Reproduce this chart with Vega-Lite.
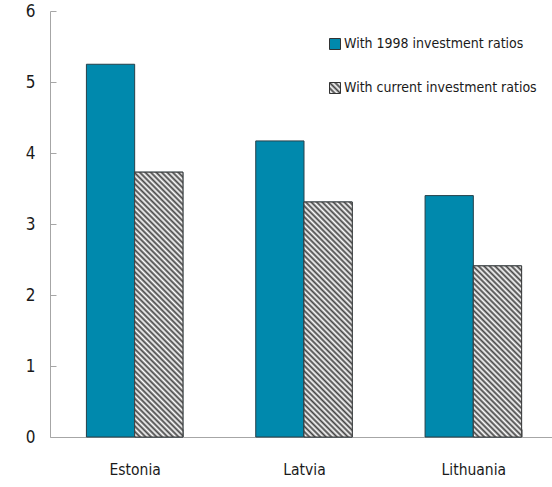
{
  "$schema": "https://vega.github.io/schema/vega-lite/v6.json",
  "width": 502,
  "height": 426,
  "autosize": {"type": "none"},
  "padding": {"left": 50, "top": 11, "right": 0, "bottom": 50},
  "background": "white",
  "config": {
    "font": "DejaVu Sans Condensed, Roboto",
    "view": {"stroke": null},
    "axis": {"grid": false, "domainColor": "#a6a6a6", "tickColor": "#a6a6a6", "labelFontSize": 15, "labelColor": "#1a1a1a", "labelFont": "DejaVu Sans Condensed, Roboto"},
    "legend": {"labelFont": "DejaVu Sans Condensed, Roboto"}
  },
  "data": {"values": [
    {"country": "Estonia", "series": "With 1998 investment ratios", "value": 5.25},
    {"country": "Estonia", "series": "With current investment ratios", "value": 3.73},
    {"country": "Latvia", "series": "With 1998 investment ratios", "value": 4.17},
    {"country": "Latvia", "series": "With current investment ratios", "value": 3.31},
    {"country": "Lithuania", "series": "With 1998 investment ratios", "value": 3.40},
    {"country": "Lithuania", "series": "With current investment ratios", "value": 2.41}
  ]},
  "encoding": {
    "x": {"field": "country", "type": "nominal", "sort": ["Estonia", "Latvia", "Lithuania"],
      "scale": {"range": [0, 508], "paddingInner": 0.43, "paddingOuter": 0.215},
      "axis": {"title": null, "labelAngle": 0, "tickBand": "extent", "tickSize": -8, "labelPadding": 33, "labelFontSize": 15.5}},
    "xOffset": {"field": "series", "type": "nominal", "sort": ["With 1998 investment ratios", "With current investment ratios"],
      "scale": {"paddingInner": 0, "paddingOuter": 0}},
    "y": {"field": "value", "type": "quantitative", "scale": {"domain": [0, 6]},
      "axis": {"title": null, "values": [0, 1, 2, 3, 4, 5, 6], "tickSize": -6, "labelPadding": 21, "labelFontSize": 17}}
  },
  "layer": [
    {
      "mark": {"type": "bar", "stroke": "#26404a", "strokeWidth": 1},
      "encoding": {
        "fill": {"field": "series", "type": "nominal",
          "scale": {"domain": ["With 1998 investment ratios", "With current investment ratios"],
            "range": ["#0089ad", {"expr": "{gradient: 'linear', x1: 0, y1: 1, x2: 1, y2: 0, stops: [{offset: 0, color: '#444'}, {offset: 0.125, color: '#fff'}, {offset: 0.25, color: '#444'}, {offset: 0.375, color: '#fff'}, {offset: 0.5, color: '#444'}, {offset: 0.625, color: '#fff'}, {offset: 0.75, color: '#444'}, {offset: 0.875, color: '#fff'}, {offset: 1, color: '#444'}]}"}]},
          "legend": {"orient": "none", "legendX": 278, "legendY": 26, "title": null, "symbolType": "square", "symbolSize": 121,
            "symbolStrokeColor": "#333333", "symbolStrokeWidth": 1, "symbolOpacity": 1, "labelFontSize": 14, "labelColor": "#1a1a1a",
            "labelLimit": 400, "rowPadding": 28, "labelOffset": 2, "padding": 0}
        }
      }
    },
    {
      "transform": [{"filter": "datum.series === 'With current investment ratios' && datum.country === 'Estonia'"}],
      "mark": {"type": "bar", "stroke": "#404040", "strokeWidth": 1, "fill": {"gradient": "linear", "x1": 0, "y1": 1, "x2": 0.2203, "y2": -0.207, "stops": [
        {"offset":0,"color":"#444"},{"offset":0.0083,"color":"#fff"},{"offset":0.0167,"color":"#444"},{"offset":0.025,"color":"#fff"},{"offset":0.0333,"color":"#444"},{"offset":0.0417,"color":"#fff"},{"offset":0.05,"color":"#444"},{"offset":0.0583,"color":"#fff"},{"offset":0.0667,"color":"#444"},{"offset":0.075,"color":"#fff"},
        {"offset":0.0833,"color":"#444"},{"offset":0.0917,"color":"#fff"},{"offset":0.1,"color":"#444"},{"offset":0.1083,"color":"#fff"},{"offset":0.1167,"color":"#444"},{"offset":0.125,"color":"#fff"},{"offset":0.1333,"color":"#444"},{"offset":0.1417,"color":"#fff"},{"offset":0.15,"color":"#444"},{"offset":0.1583,"color":"#fff"},
        {"offset":0.1667,"color":"#444"},{"offset":0.175,"color":"#fff"},{"offset":0.1833,"color":"#444"},{"offset":0.1917,"color":"#fff"},{"offset":0.2,"color":"#444"},{"offset":0.2083,"color":"#fff"},{"offset":0.2167,"color":"#444"},{"offset":0.225,"color":"#fff"},{"offset":0.2333,"color":"#444"},{"offset":0.2417,"color":"#fff"},
        {"offset":0.25,"color":"#444"},{"offset":0.2583,"color":"#fff"},{"offset":0.2667,"color":"#444"},{"offset":0.275,"color":"#fff"},{"offset":0.2833,"color":"#444"},{"offset":0.2917,"color":"#fff"},{"offset":0.3,"color":"#444"},{"offset":0.3083,"color":"#fff"},{"offset":0.3167,"color":"#444"},{"offset":0.325,"color":"#fff"},
        {"offset":0.3333,"color":"#444"},{"offset":0.3417,"color":"#fff"},{"offset":0.35,"color":"#444"},{"offset":0.3583,"color":"#fff"},{"offset":0.3667,"color":"#444"},{"offset":0.375,"color":"#fff"},{"offset":0.3833,"color":"#444"},{"offset":0.3917,"color":"#fff"},{"offset":0.4,"color":"#444"},{"offset":0.4083,"color":"#fff"},
        {"offset":0.4167,"color":"#444"},{"offset":0.425,"color":"#fff"},{"offset":0.4333,"color":"#444"},{"offset":0.4417,"color":"#fff"},{"offset":0.45,"color":"#444"},{"offset":0.4583,"color":"#fff"},{"offset":0.4667,"color":"#444"},{"offset":0.475,"color":"#fff"},{"offset":0.4833,"color":"#444"},{"offset":0.4917,"color":"#fff"},
        {"offset":0.5,"color":"#444"},{"offset":0.5083,"color":"#fff"},{"offset":0.5167,"color":"#444"},{"offset":0.525,"color":"#fff"},{"offset":0.5333,"color":"#444"},{"offset":0.5417,"color":"#fff"},{"offset":0.55,"color":"#444"},{"offset":0.5583,"color":"#fff"},{"offset":0.5667,"color":"#444"},{"offset":0.575,"color":"#fff"},
        {"offset":0.5833,"color":"#444"},{"offset":0.5917,"color":"#fff"},{"offset":0.6,"color":"#444"},{"offset":0.6083,"color":"#fff"},{"offset":0.6167,"color":"#444"},{"offset":0.625,"color":"#fff"},{"offset":0.6333,"color":"#444"},{"offset":0.6417,"color":"#fff"},{"offset":0.65,"color":"#444"},{"offset":0.6583,"color":"#fff"},
        {"offset":0.6667,"color":"#444"},{"offset":0.675,"color":"#fff"},{"offset":0.6833,"color":"#444"},{"offset":0.6917,"color":"#fff"},{"offset":0.7,"color":"#444"},{"offset":0.7083,"color":"#fff"},{"offset":0.7167,"color":"#444"},{"offset":0.725,"color":"#fff"},{"offset":0.7333,"color":"#444"},{"offset":0.7417,"color":"#fff"},
        {"offset":0.75,"color":"#444"},{"offset":0.7583,"color":"#fff"},{"offset":0.7667,"color":"#444"},{"offset":0.775,"color":"#fff"},{"offset":0.7833,"color":"#444"},{"offset":0.7917,"color":"#fff"},{"offset":0.8,"color":"#444"},{"offset":0.8083,"color":"#fff"},{"offset":0.8167,"color":"#444"},{"offset":0.825,"color":"#fff"},
        {"offset":0.8333,"color":"#444"},{"offset":0.8417,"color":"#fff"},{"offset":0.85,"color":"#444"},{"offset":0.8583,"color":"#fff"},{"offset":0.8667,"color":"#444"},{"offset":0.875,"color":"#fff"},{"offset":0.8833,"color":"#444"},{"offset":0.8917,"color":"#fff"},{"offset":0.9,"color":"#444"},{"offset":0.9083,"color":"#fff"},
        {"offset":0.9167,"color":"#444"},{"offset":0.925,"color":"#fff"},{"offset":0.9333,"color":"#444"},{"offset":0.9417,"color":"#fff"},{"offset":0.95,"color":"#444"},{"offset":0.9583,"color":"#fff"},{"offset":0.9667,"color":"#444"}
      ]}}
    },
    {
      "transform": [{"filter": "datum.series === 'With current investment ratios' && datum.country === 'Latvia'"}],
      "mark": {"type": "bar", "stroke": "#404040", "strokeWidth": 1, "fill": {"gradient": "linear", "x1": 0, "y1": 1, "x2": 0.2774, "y2": -0.3484, "stops": [
        {"offset":0,"color":"#444"},{"offset":0.0083,"color":"#fff"},{"offset":0.0167,"color":"#444"},{"offset":0.025,"color":"#fff"},{"offset":0.0333,"color":"#444"},{"offset":0.0417,"color":"#fff"},{"offset":0.05,"color":"#444"},{"offset":0.0583,"color":"#fff"},{"offset":0.0667,"color":"#444"},{"offset":0.075,"color":"#fff"},
        {"offset":0.0833,"color":"#444"},{"offset":0.0917,"color":"#fff"},{"offset":0.1,"color":"#444"},{"offset":0.1083,"color":"#fff"},{"offset":0.1167,"color":"#444"},{"offset":0.125,"color":"#fff"},{"offset":0.1333,"color":"#444"},{"offset":0.1417,"color":"#fff"},{"offset":0.15,"color":"#444"},{"offset":0.1583,"color":"#fff"},
        {"offset":0.1667,"color":"#444"},{"offset":0.175,"color":"#fff"},{"offset":0.1833,"color":"#444"},{"offset":0.1917,"color":"#fff"},{"offset":0.2,"color":"#444"},{"offset":0.2083,"color":"#fff"},{"offset":0.2167,"color":"#444"},{"offset":0.225,"color":"#fff"},{"offset":0.2333,"color":"#444"},{"offset":0.2417,"color":"#fff"},
        {"offset":0.25,"color":"#444"},{"offset":0.2583,"color":"#fff"},{"offset":0.2667,"color":"#444"},{"offset":0.275,"color":"#fff"},{"offset":0.2833,"color":"#444"},{"offset":0.2917,"color":"#fff"},{"offset":0.3,"color":"#444"},{"offset":0.3083,"color":"#fff"},{"offset":0.3167,"color":"#444"},{"offset":0.325,"color":"#fff"},
        {"offset":0.3333,"color":"#444"},{"offset":0.3417,"color":"#fff"},{"offset":0.35,"color":"#444"},{"offset":0.3583,"color":"#fff"},{"offset":0.3667,"color":"#444"},{"offset":0.375,"color":"#fff"},{"offset":0.3833,"color":"#444"},{"offset":0.3917,"color":"#fff"},{"offset":0.4,"color":"#444"},{"offset":0.4083,"color":"#fff"},
        {"offset":0.4167,"color":"#444"},{"offset":0.425,"color":"#fff"},{"offset":0.4333,"color":"#444"},{"offset":0.4417,"color":"#fff"},{"offset":0.45,"color":"#444"},{"offset":0.4583,"color":"#fff"},{"offset":0.4667,"color":"#444"},{"offset":0.475,"color":"#fff"},{"offset":0.4833,"color":"#444"},{"offset":0.4917,"color":"#fff"},
        {"offset":0.5,"color":"#444"},{"offset":0.5083,"color":"#fff"},{"offset":0.5167,"color":"#444"},{"offset":0.525,"color":"#fff"},{"offset":0.5333,"color":"#444"},{"offset":0.5417,"color":"#fff"},{"offset":0.55,"color":"#444"},{"offset":0.5583,"color":"#fff"},{"offset":0.5667,"color":"#444"},{"offset":0.575,"color":"#fff"},
        {"offset":0.5833,"color":"#444"},{"offset":0.5917,"color":"#fff"},{"offset":0.6,"color":"#444"},{"offset":0.6083,"color":"#fff"},{"offset":0.6167,"color":"#444"},{"offset":0.625,"color":"#fff"},{"offset":0.6333,"color":"#444"},{"offset":0.6417,"color":"#fff"},{"offset":0.65,"color":"#444"},{"offset":0.6583,"color":"#fff"},
        {"offset":0.6667,"color":"#444"},{"offset":0.675,"color":"#fff"},{"offset":0.6833,"color":"#444"},{"offset":0.6917,"color":"#fff"},{"offset":0.7,"color":"#444"},{"offset":0.7083,"color":"#fff"},{"offset":0.7167,"color":"#444"},{"offset":0.725,"color":"#fff"},{"offset":0.7333,"color":"#444"},{"offset":0.7417,"color":"#fff"},
        {"offset":0.75,"color":"#444"},{"offset":0.7583,"color":"#fff"},{"offset":0.7667,"color":"#444"},{"offset":0.775,"color":"#fff"},{"offset":0.7833,"color":"#444"},{"offset":0.7917,"color":"#fff"},{"offset":0.8,"color":"#444"},{"offset":0.8083,"color":"#fff"},{"offset":0.8167,"color":"#444"},{"offset":0.825,"color":"#fff"},
        {"offset":0.8333,"color":"#444"},{"offset":0.8417,"color":"#fff"},{"offset":0.85,"color":"#444"},{"offset":0.8583,"color":"#fff"},{"offset":0.8667,"color":"#444"}
      ]}}
    },
    {
      "transform": [{"filter": "datum.series === 'With current investment ratios' && datum.country === 'Lithuania'"}],
      "mark": {"type": "bar", "stroke": "#404040", "strokeWidth": 1, "fill": {"gradient": "linear", "x1": 0, "y1": 1, "x2": 0.5048, "y2": -0.7873, "stops": [
        {"offset":0,"color":"#444"},{"offset":0.0083,"color":"#fff"},{"offset":0.0167,"color":"#444"},{"offset":0.025,"color":"#fff"},{"offset":0.0333,"color":"#444"},{"offset":0.0417,"color":"#fff"},{"offset":0.05,"color":"#444"},{"offset":0.0583,"color":"#fff"},{"offset":0.0667,"color":"#444"},{"offset":0.075,"color":"#fff"},
        {"offset":0.0833,"color":"#444"},{"offset":0.0917,"color":"#fff"},{"offset":0.1,"color":"#444"},{"offset":0.1083,"color":"#fff"},{"offset":0.1167,"color":"#444"},{"offset":0.125,"color":"#fff"},{"offset":0.1333,"color":"#444"},{"offset":0.1417,"color":"#fff"},{"offset":0.15,"color":"#444"},{"offset":0.1583,"color":"#fff"},
        {"offset":0.1667,"color":"#444"},{"offset":0.175,"color":"#fff"},{"offset":0.1833,"color":"#444"},{"offset":0.1917,"color":"#fff"},{"offset":0.2,"color":"#444"},{"offset":0.2083,"color":"#fff"},{"offset":0.2167,"color":"#444"},{"offset":0.225,"color":"#fff"},{"offset":0.2333,"color":"#444"},{"offset":0.2417,"color":"#fff"},
        {"offset":0.25,"color":"#444"},{"offset":0.2583,"color":"#fff"},{"offset":0.2667,"color":"#444"},{"offset":0.275,"color":"#fff"},{"offset":0.2833,"color":"#444"},{"offset":0.2917,"color":"#fff"},{"offset":0.3,"color":"#444"},{"offset":0.3083,"color":"#fff"},{"offset":0.3167,"color":"#444"},{"offset":0.325,"color":"#fff"},
        {"offset":0.3333,"color":"#444"},{"offset":0.3417,"color":"#fff"},{"offset":0.35,"color":"#444"},{"offset":0.3583,"color":"#fff"},{"offset":0.3667,"color":"#444"},{"offset":0.375,"color":"#fff"},{"offset":0.3833,"color":"#444"},{"offset":0.3917,"color":"#fff"},{"offset":0.4,"color":"#444"},{"offset":0.4083,"color":"#fff"},
        {"offset":0.4167,"color":"#444"},{"offset":0.425,"color":"#fff"},{"offset":0.4333,"color":"#444"},{"offset":0.4417,"color":"#fff"},{"offset":0.45,"color":"#444"},{"offset":0.4583,"color":"#fff"},{"offset":0.4667,"color":"#444"},{"offset":0.475,"color":"#fff"},{"offset":0.4833,"color":"#444"},{"offset":0.4917,"color":"#fff"},
        {"offset":0.5,"color":"#444"},{"offset":0.5083,"color":"#fff"},{"offset":0.5167,"color":"#444"},{"offset":0.525,"color":"#fff"},{"offset":0.5333,"color":"#444"},{"offset":0.5417,"color":"#fff"},{"offset":0.55,"color":"#444"},{"offset":0.5583,"color":"#fff"},{"offset":0.5667,"color":"#444"},{"offset":0.575,"color":"#fff"},
        {"offset":0.5833,"color":"#444"},{"offset":0.5917,"color":"#fff"},{"offset":0.6,"color":"#444"},{"offset":0.6083,"color":"#fff"},{"offset":0.6167,"color":"#444"},{"offset":0.625,"color":"#fff"},{"offset":0.6333,"color":"#444"},{"offset":0.6417,"color":"#fff"},{"offset":0.65,"color":"#444"},{"offset":0.6583,"color":"#fff"},
        {"offset":0.6667,"color":"#444"},{"offset":0.675,"color":"#fff"},{"offset":0.6833,"color":"#444"}
      ]}}
    }
  ]
}
